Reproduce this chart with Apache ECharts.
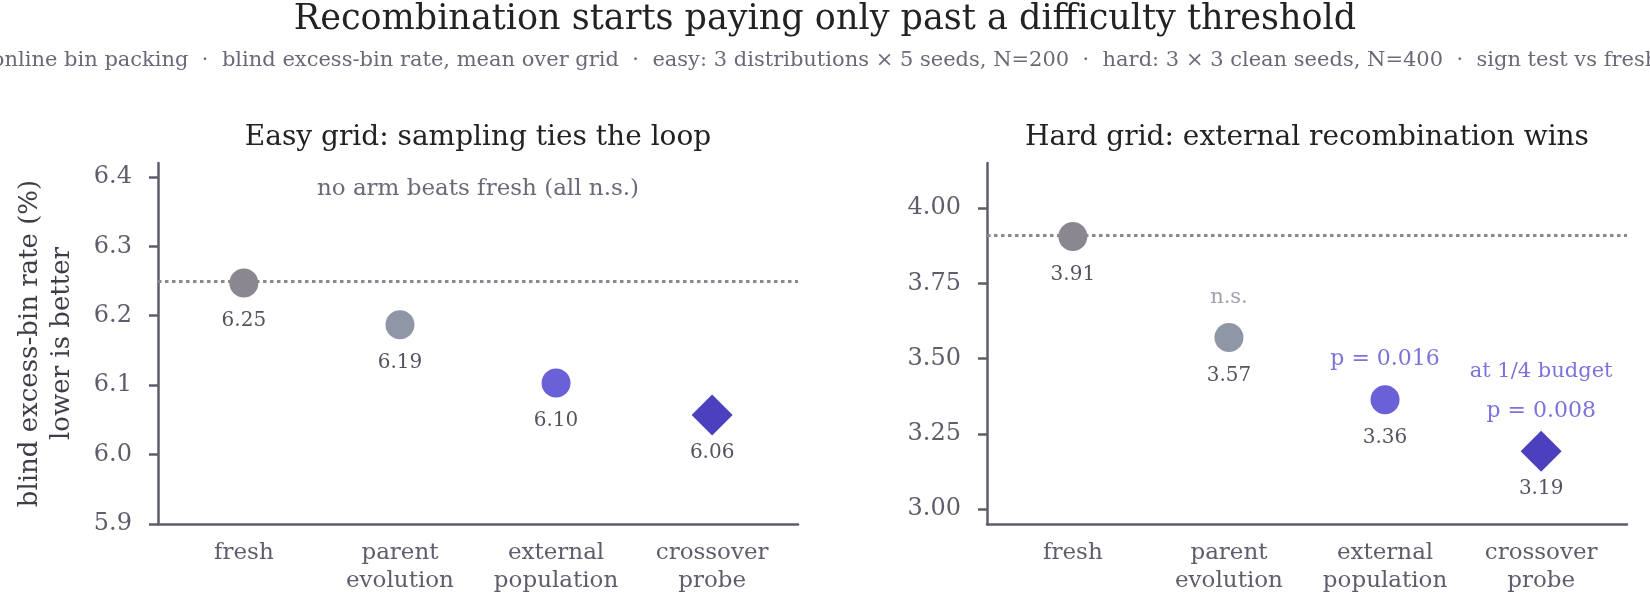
<!DOCTYPE html>
<html>
<head>
<meta charset="utf-8">
<script src="https://cdn.jsdelivr.net/npm/echarts@6/dist/echarts.min.js"></script>
<style>
  html, body { margin: 0; padding: 0; background: #fff; }
  #chart { width: 1650px; height: 593px; }
</style>
</head>
<body>
<div id="chart"></div>
<script>
// arms compared in both grids
var arms = ['fresh', 'parent\nevolution', 'external\npopulation', 'crossover\nprobe'];
// mean blind excess-bin rate (%)
var easyRate = [6.247, 6.187, 6.103, 6.057];
var hardRate = [3.906, 3.570, 3.363, 3.192];
// y tick labels
var easyTicks = [5.9, 6.0, 6.1, 6.2, 6.3, 6.4];
var hardTicks = [3.00, 3.25, 3.50, 3.75, 4.00];
// sign test notes (hard grid)
var hardNotes = ['', 'n.s.', 'p = 0.016', 'at 1/4 budget\np = 0.008'];

var FONT = 'DejaVu Serif';
var armColors = ['#8b8791', '#8f96a6', '#6a60d8', '#4c40bf'];
var axisColor = '#5f5d6b';

var dom = document.getElementById('chart');
var myChart = echarts.init(dom);

function points(vals) {
  return vals.map(function (v, i) {
    var diamond = i === 3;
    return {
      value: [i, v],
      symbol: diamond ? 'diamond' : 'circle',
      symbolSize: diamond ? 41 : 29,
      itemStyle: { color: armColors[i], opacity: 1 }
    };
  });
}

function notes(vals) {
  var out = [];
  vals.forEach(function (v, i) {
    if (!hardNotes[i]) return;
    var lines = hardNotes[i].split('\n');
    var txt = lines.map(function (l) {
      if (l === 'n.s.') return '{ns|' + l + '}';
      if (l.indexOf('p =') === 0) return '{p|' + l + '}';
      return '{sub|' + l + '}';
    }).join('\n');
    out.push({
      value: [i, v],
      label: { formatter: txt, offset: [0, -20 * (lines.length + 1)] }
    });
  });
  return out;
}

function xAxis(idx) {
  return {
    type: 'value', gridIndex: idx, min: -0.55, max: 3.55,
    splitLine: { show: false },
    axisLine: { show: true, lineStyle: { color: axisColor, width: 2.5 } },
    axisTick: { show: false },
    axisLabel: {
      customValues: [0, 1, 2, 3],
      formatter: function (v) { return arms[Math.round(v)]; },
      margin: 15, fontSize: 23, lineHeight: 28,
      color: axisColor, fontFamily: FONT
    }
  };
}

function yAxis(idx, min, max, ticks, digits) {
  return {
    type: 'value', gridIndex: idx, min: min, max: max,
    splitLine: { show: false },
    axisLine: { show: true, onZero: false, lineStyle: { color: axisColor, width: 2.5 } },
    axisTick: { show: true, customValues: ticks, length: 9, lineStyle: { color: axisColor, width: 2.5 } },
    axisLabel: {
      customValues: ticks,
      formatter: function (v) { return v.toFixed(digits); },
      margin: 26, fontSize: 24, color: axisColor, fontFamily: FONT
    }
  };
}

function refLine(xi, yi, vals) {
  return {
    type: 'scatter', xAxisIndex: xi, yAxisIndex: yi, z: 1,
    symbolSize: 0, silent: true, data: [],
    markLine: {
      silent: true, symbol: 'none', animation: false,
      label: { show: false },
      lineStyle: { color: '#8b8791', type: [3.5, 3.5], width: 3 },
      data: [{ yAxis: vals[0] }]
    }
  };
}

function mainSeries(xi, yi, vals) {
  return {
    type: 'scatter', xAxisIndex: xi, yAxisIndex: yi, z: 3,
    data: points(vals),
    label: {
      show: true, position: 'inside', offset: [0, 38],
      formatter: function (p) { return p.value[1].toFixed(2); },
      fontSize: 20, color: '#55535f', fontFamily: FONT
    }
  };
}

function textEl(x, y, text, size, color) {
  return {
    type: 'text', x: x, y: y, silent: true,
    style: {
      text: text, fontSize: size, fontFamily: FONT, fill: color,
      align: 'center', verticalAlign: 'middle',
      textAlign: 'center', textVerticalAlign: 'middle'
    }
  };
}

option = {
  animation: false,
  backgroundColor: '#ffffff',
  grid: [
    { left: 158, top: 163, width: 640, height: 361, outerBoundsMode: 'none' },
    { left: 987, top: 163, width: 640, height: 361, outerBoundsMode: 'none' }
  ],
  xAxis: [xAxis(0), xAxis(1)],
  yAxis: [
    Object.assign(yAxis(0, 5.9, 6.42, easyTicks, 1), {
      name: 'blind excess-bin rate (%)\nlower is better',
      nameLocation: 'middle', nameGap: 80,
      nameTextStyle: { fontSize: 26, lineHeight: 32, color: '#3f3d48', fontFamily: FONT }
    }),
    yAxis(1, 2.95, 4.15, hardTicks, 2)
  ],
  series: [
    refLine(0, 0, easyRate),
    mainSeries(0, 0, easyRate),
    refLine(1, 1, hardRate),
    mainSeries(1, 1, hardRate),
    {
      type: 'scatter', xAxisIndex: 1, yAxisIndex: 1, z: 4,
      symbolSize: 0, silent: true,
      data: notes(hardRate),
      label: {
        show: true, position: 'inside', fontFamily: FONT,
        rich: {
          ns: { fontSize: 21, lineHeight: 40, color: '#8b8996', fontFamily: FONT },
          p: { fontSize: 22, lineHeight: 40, color: '#5a50d2', fontFamily: FONT },
          sub: { fontSize: 21, lineHeight: 40, color: '#5a50d2', fontFamily: FONT }
        }
      }
    }
  ],
  graphic: [
    textEl(825, 20, 'Recombination starts paying only past a difficulty threshold', 35, '#222222'),
    textEl(825, 61, 'online bin packing  \u00b7  blind excess-bin rate, mean over grid  \u00b7  easy: 3 distributions \u00d7 5 seeds, N=200  \u00b7  hard: 3 \u00d7 3 clean seeds, N=400  \u00b7  sign test vs fresh', 21, '#6b6978'),
    textEl(478, 138, 'Easy grid: sampling ties the loop', 28, '#222222'),
    textEl(1307, 138, 'Hard grid: external recombination wins', 28, '#222222'),
    textEl(478, 189, 'no arm beats fresh (all n.s.)', 23, '#6b6978')
  ]
};

if (option && typeof option === 'object') {
  myChart.setOption(option, true);
}
</script>
</body>
</html>
